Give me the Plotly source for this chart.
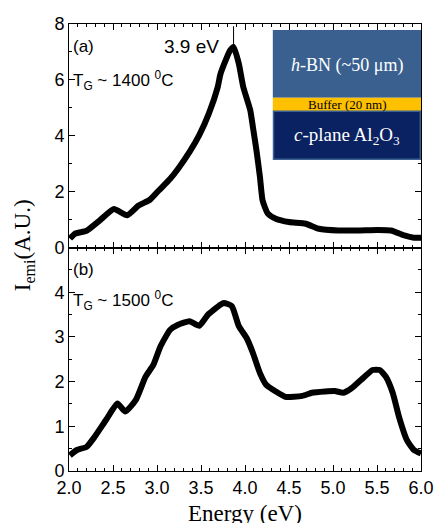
import plotly.graph_objects as go

# Panel (a): T_G ~ 1400 C
xa = [2.01, 2.07, 2.2, 2.35, 2.51, 2.66, 2.79, 2.92, 3.02, 3.15, 3.24, 3.37, 3.48, 3.59, 3.69, 3.72,
      3.78, 3.83, 3.87, 3.93, 3.98, 4.06, 4.09, 4.13, 4.17, 4.2, 4.26, 4.35, 4.5, 4.69, 4.84, 5.06,
      5.28, 5.51, 5.66, 5.81, 5.92, 6.0]
ya = [0.32, 0.5, 0.6, 0.97, 1.38, 1.15, 1.5, 1.71, 2.04, 2.46, 2.82, 3.42, 4.02, 4.8, 5.74, 6.2,
      6.7, 7.05, 7.18, 6.58, 5.75, 4.91, 4.31, 3.48, 2.52, 1.68, 1.21, 1.03, 0.91, 0.85, 0.67, 0.61,
      0.61, 0.63, 0.61, 0.43, 0.35, 0.35]

# Panel (b): T_G ~ 1500 C
xb = [2.01, 2.09, 2.2, 2.29, 2.42, 2.55, 2.64, 2.76, 2.87, 2.96, 3.04, 3.15, 3.24, 3.37, 3.48, 3.58,
      3.72, 3.76, 3.85, 3.93, 4.02, 4.09, 4.17, 4.24, 4.35, 4.46, 4.65, 4.76, 4.91, 5.02, 5.12, 5.21,
      5.32, 5.45, 5.53, 5.6, 5.68, 5.75, 5.84, 5.92, 6.0]
yb = [0.35, 0.47, 0.54, 0.76, 1.14, 1.51, 1.33, 1.59, 2.11, 2.38, 2.79, 3.16, 3.27, 3.35, 3.25, 3.5,
      3.72, 3.76, 3.69, 3.24, 2.97, 2.64, 2.19, 1.93, 1.78, 1.66, 1.68, 1.75, 1.78, 1.79, 1.75, 1.85,
      2.04, 2.26, 2.26, 2.11, 1.74, 1.21, 0.69, 0.47, 0.39]

peak_x = 3.87
peak_label = "3.9 eV"

fig = go.Figure()
fig.add_trace(go.Scatter(x=xa, y=ya, mode="lines", line=dict(color="black", width=6, shape="spline", smoothing=0.5),
                         xaxis="x", yaxis="y", showlegend=False))
fig.add_trace(go.Scatter(x=xb, y=yb, mode="lines", line=dict(color="black", width=6, shape="spline", smoothing=0.5),
                         xaxis="x2", yaxis="y2", showlegend=False))

tickfont = dict(family="Liberation Sans, Arial, sans-serif", size=18, color="black")
axis_common = dict(showline=True, linecolor="black", linewidth=1, mirror="allticks", ticks="inside",
                   ticklen=6, tickwidth=1, tickcolor="black", showgrid=False, zeroline=False, tickfont=tickfont)

fig.update_layout(
    width=446, height=523,
    margin=dict(l=69, r=19, t=24, b=52),
    paper_bgcolor="white", plot_bgcolor="white",
    xaxis=dict(domain=[0, 1], range=[2, 6], anchor="y", showticklabels=False, dtick=0.5,
               minor=dict(dtick=0.1, ticks="inside", ticklen=3, tickcolor="black"), **axis_common),
    yaxis=dict(domain=[0.5, 1], range=[0, 8], anchor="x", dtick=2,
               minor=dict(dtick=1, ticks="inside", ticklen=3, tickcolor="black"), **axis_common),
    xaxis2=dict(domain=[0, 1], range=[2, 6], anchor="y2", dtick=0.5, tickformat=".1f",
                minor=dict(dtick=0.1, ticks="inside", ticklen=3, tickcolor="black"), **axis_common),
    yaxis2=dict(domain=[0, 0.5], range=[0, 5], anchor="x2", tickvals=[0, 1, 2, 3, 4],
                minor=dict(dtick=0.5, ticks="inside", ticklen=3, tickcolor="black"), **axis_common),
)

serif = "Liberation Serif, Times New Roman, serif"
sans = "Liberation Sans, Arial, sans-serif"

# inset layer diagram (top panel domain coordinates)
fig.add_shape(type="rect", xref="x domain", yref="y domain", x0=0.579, x1=1.0, y0=0.67, y1=0.973,
              fillcolor="#3A6090", line=dict(width=0), layer="above")
fig.add_shape(type="rect", xref="x domain", yref="y domain", x0=0.579, x1=1.0, y0=0.61, y1=0.67,
              fillcolor="#FFC000", line=dict(width=0), layer="above")
fig.add_shape(type="rect", xref="x domain", yref="y domain", x0=0.581, x1=0.998, y0=0.395, y1=0.61,
              fillcolor="#0B2262", line=dict(width=1.5, color="#3A6090"), layer="above")

fig.add_annotation(xref="x domain", yref="y domain", x=0.79, y=0.815, xanchor="center", yanchor="middle",
                   showarrow=False, text="<i>h</i>-BN (~50 μm)", font=dict(family=serif, size=18, color="white"))
fig.add_annotation(xref="x domain", yref="y domain", x=0.79, y=0.638, xanchor="center", yanchor="middle",
                   showarrow=False, text="Buffer (20 nm)", font=dict(family=serif, size=13, color="black"))
fig.add_annotation(xref="x domain", yref="y domain", x=0.79, y=0.5, xanchor="center", yanchor="middle",
                   showarrow=False, text="<i>c</i>-plane Al<sub>2</sub>O<sub>3</sub>",
                   font=dict(family=serif, size=19, color="white"))

# peak marker
fig.add_shape(type="line", xref="x", yref="y", x0=peak_x, x1=peak_x, y0=7.22, y1=7.92,
              line=dict(color="black", width=1))
fig.add_annotation(xref="x", yref="y", x=peak_x - 0.14, y=7.2, xanchor="right", yanchor="middle",
                   showarrow=False, text=peak_label, font=dict(family=sans, size=19, color="black"))

# panel labels
fig.add_annotation(xref="x domain", yref="y domain", x=0.005, y=0.901, xanchor="left", yanchor="middle",
                   showarrow=False, text="(a)", font=dict(family=sans, size=17, color="black"))
fig.add_annotation(xref="x domain", yref="y domain", x=0.005, y=0.745, xanchor="left", yanchor="middle",
                   showarrow=False, text="T<sub>G</sub> ~ 1400 <sup>0</sup>C", font=dict(family=sans, size=17, color="black"))
fig.add_annotation(xref="x2 domain", yref="y2 domain", x=0.005, y=0.902, xanchor="left", yanchor="middle",
                   showarrow=False, text="(b)", font=dict(family=sans, size=17, color="black"))
fig.add_annotation(xref="x2 domain", yref="y2 domain", x=0.005, y=0.765, xanchor="left", yanchor="middle",
                   showarrow=False, text="T<sub>G</sub> ~ 1500 <sup>0</sup>C", font=dict(family=sans, size=17, color="black"))

# axis titles
fig.add_annotation(xref="paper", yref="paper", x=0.5, y=-0.063, xanchor="center", yanchor="top",
                   showarrow=False, text="Energy (eV)", font=dict(family=serif, size=23, color="black"))
fig.add_annotation(xref="paper", yref="paper", x=-0.128, y=0.505, xanchor="center", yanchor="middle",
                   textangle=-90, showarrow=False, text="I<sub>emi</sub>(A.U.)",
                   font=dict(family=serif, size=23, color="black"))

fig.write_html("out.html")
